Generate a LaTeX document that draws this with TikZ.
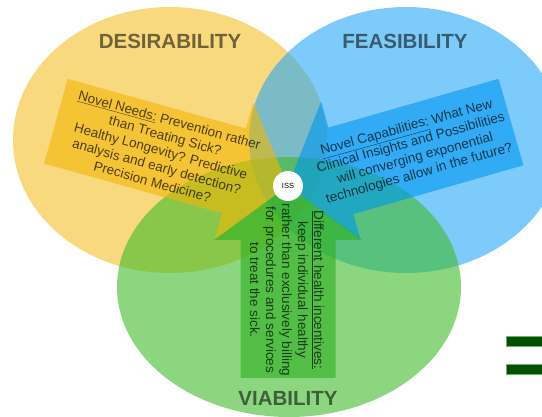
\documentclass[tikz,border=0pt]{standalone}
\usepackage{fontspec}
\setmainfont{Liberation Sans}
\definecolor{ycirc}{RGB}{245,192,40}
\definecolor{bcirc}{RGB}{38,168,247}
\definecolor{gcirc}{RGB}{62,187,42}
\definecolor{yarr}{RGB}{242,183,5}
\definecolor{barr}{RGB}{0,150,240}
\definecolor{garr}{RGB}{45,175,30}
\definecolor{eqgreen}{RGB}{0,80,0}
% block arrow: tip at the origin, pointing along +x
\newcommand{\blockarrow}[5]{%
  \fill[#5] (0,0) -- (-#3,-#4) -- (-#3,-#2) -- (-#1,-#2) -- (-#1,#2)
        -- (-#3,#2) -- (-#3,#4) -- cycle;}
\begin{document}
\begin{tikzpicture}[x=1pt,y=-1pt,
  circ/.style={fill opacity=0.6},
  arr/.style={fill opacity=0.6},
  title/.style={font=\fontsize{20.5}{24}\selectfont\bfseries, text=black, text opacity=0.55},
  body/.style={font=\fontsize{13.5}{16}\selectfont, align=center, text=black, text opacity=0.68, inner sep=0pt}]
\useasboundingbox (0,0) rectangle (542,417);
\clip (0,0) rectangle (542,417);

% the three overlapping circles
\fill[circ, ycirc] (170,140) ellipse [x radius=157, y radius=133];
\fill[circ, bcirc] (406,140) ellipse [x radius=157, y radius=133];
\fill[circ, gcirc] (289,287) ellipse [x radius=172, y radius=130];

% arrows converging on the centre
\begin{scope}[shift={(288,186)}, rotate=-15.6]
  \blockarrow{241}{44}{56}{71}{arr, yarr}
\end{scope}
\begin{scope}[shift={(288,186)}, rotate=196]
  \blockarrow{232}{45}{55}{72}{arr, barr}
\end{scope}
\begin{scope}[shift={(288,186)}, rotate=90]
  \blockarrow{192}{47.5}{54}{74}{arr, garr}
\end{scope}

% titles
\node[title] (des) at (170,41) {DESIRABILITY};
\node[title] (fea) at (405,41) {FEASIBILITY};
\node[title] (via) at (288,398) {VIABILITY};

% arrow texts
\node[body, rotate=-15.5] (needs) at (161,151)
  {\underline{Novel Needs:} Prevention rather\\ than Treating Sick?\\
   Healthy Longevity? Predictive\\ analysis and early detection?\\ Precision Medicine?};
\node[body, rotate=15.5] (caps) at (413,151)
  {\underline{Novel Capabilities:} What New\\ Clinical Insights and Possibilities\\
   will converging exponential\\ technologies allow in the future?};
\node[body, rotate=-90] (incent) at (287,290)
  {\underline{Different health incentives:}\\ keep individual healthy\\
   rather than exclusively billing\\ for procedures and services\\ to treat the sick.};

% centre marker
\node[circle, fill=white, minimum size=30pt, inner sep=0pt,
      font=\fontsize{7.5}{9}\selectfont] (iss) at (288,186) {ISS};

% equals sign at the right edge
\filldraw[eqgreen, draw=green!30!eqgreen!60!white, line width=0.5pt] (506,336) rectangle (560,346);
\filldraw[eqgreen, draw=green!30!eqgreen!60!white, line width=0.5pt] (506,364) rectangle (560,374);
\end{tikzpicture}
\end{document}
